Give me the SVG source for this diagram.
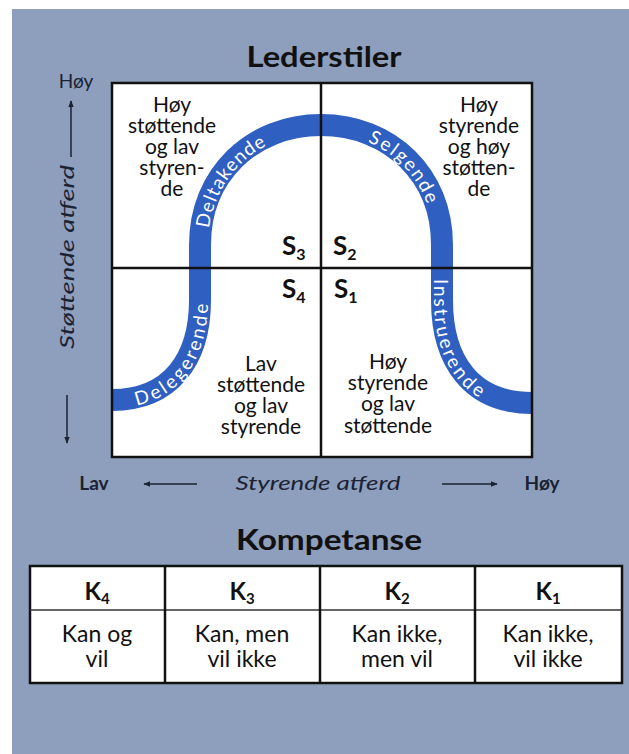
<svg xmlns="http://www.w3.org/2000/svg" width="629" height="754" viewBox="0 0 629 754">
<defs>
<style>
.t{font-family:Lato,"Liberation Sans",sans-serif;fill:#111;}
.q{font-size:21px;text-anchor:middle;}
.ax{font-family:Lato,"Liberation Sans",sans-serif;fill:#1a2233;font-size:19px;}
.line{stroke:#111;stroke-width:2.5;fill:none;}
.arr{stroke:#1a2233;stroke-width:1.5;fill:none;}
.band{font-family:Lato,"Liberation Sans",sans-serif;fill:#fff;font-size:19px;dominant-baseline:central;text-anchor:middle;}
.s{font-family:Lato,"Liberation Sans",sans-serif;fill:#111;font-weight:bold;font-size:26px;}
.sub{font-size:16px;}
</style>
<marker id="ah" viewBox="0 0 10 10" refX="9" refY="5" markerWidth="7" markerHeight="7" orient="auto-start-reverse" markerUnits="userSpaceOnUse">
<path d="M0,1 L10,5 L0,9 z" fill="#1a2233"/>
</marker>
<path id="curve" d="M112,400 C170,400 200,360 200,300 L200,245 C200,175 252,125 321,125 C390,125 442,175 442,245 L442,300 C442,362 472,403 532,403"/>
</defs>
<rect x="0" y="0" width="629" height="754" fill="#ffffff"/>
<rect x="12" y="9" width="617" height="745" fill="#8e9ebd"/>

<g id="title">
<text class="t" x="324" y="67" font-size="28" font-weight="bold" text-anchor="middle" textLength="155" lengthAdjust="spacingAndGlyphs">Lederstiler</text>
</g>

<g id="quadrant-box">
<rect x="112" y="83" width="420" height="374" fill="#fff"/>
</g>

<g id="curve-band">
<use href="#curve" fill="none" stroke="#2f5fc0" stroke-width="22"/>
<text class="band"><textPath href="#curve" startOffset="85" textLength="125">Delegerende</textPath></text>
<text class="band"><textPath href="#curve" startOffset="280" textLength="112">Deltakende</textPath></text>
<text class="band"><textPath href="#curve" startOffset="495" textLength="95">Selgende</textPath></text>
<text class="band"><textPath href="#curve" startOffset="684" textLength="126">Instruerende</textPath></text>
</g>

<g id="grid-lines">
<rect class="line" x="112" y="83" width="420" height="374"/>
<line class="line" x1="321" y1="83" x2="321" y2="457"/>
<line class="line" x1="112" y1="268" x2="532" y2="268"/>
</g>

<g id="q-s3">
<text class="t q" x="172"><tspan x="172" y="112">Høy</tspan><tspan x="172" y="133">støttende</tspan><tspan x="172" y="154">og lav</tspan><tspan x="172" y="175">styren-</tspan><tspan x="172" y="196">de</tspan></text>
<text class="s" x="282" y="255">S<tspan class="sub" dy="5">3</tspan></text>
</g>
<g id="q-s2">
<text class="t q" x="479"><tspan x="479" y="112">Høy</tspan><tspan x="479" y="133">styrende</tspan><tspan x="479" y="154">og høy</tspan><tspan x="479" y="175">støtten-</tspan><tspan x="479" y="196">de</tspan></text>
<text class="s" x="333" y="255">S<tspan class="sub" dy="5">2</tspan></text>
</g>
<g id="q-s4">
<text class="t q" x="261"><tspan x="261" y="371">Lav</tspan><tspan x="261" y="392">støttende</tspan><tspan x="261" y="413">og lav</tspan><tspan x="261" y="434">styrende</tspan></text>
<text class="s" x="282" y="298">S<tspan class="sub" dy="5">4</tspan></text>
</g>
<g id="q-s1">
<text class="t q" x="388"><tspan x="388" y="369">Høy</tspan><tspan x="388" y="390">styrende</tspan><tspan x="388" y="411">og lav</tspan><tspan x="388" y="433">støttende</tspan></text>
<text class="s" x="334" y="298">S<tspan class="sub" dy="5">1</tspan></text>
</g>

<g id="axes">
<text class="ax" x="76" y="88" text-anchor="middle">Høy</text>
<line class="arr" x1="71" y1="157" x2="71" y2="101" marker-end="url(#ah)"/>
<text class="ax" font-style="italic" font-size="21" text-anchor="middle" transform="translate(74,257) rotate(-90)" textLength="184" lengthAdjust="spacingAndGlyphs">Støttende atferd</text>
<line class="arr" x1="67" y1="395" x2="67" y2="443" marker-end="url(#ah)"/>
<text class="ax" x="94" y="490" font-weight="bold" font-size="20" text-anchor="middle">Lav</text>
<line class="arr" x1="197" y1="484" x2="144" y2="484" marker-end="url(#ah)"/>
<text class="ax" x="318" y="490" font-style="italic" font-size="21" text-anchor="middle" textLength="165" lengthAdjust="spacingAndGlyphs">Styrende atferd</text>
<line class="arr" x1="442" y1="484" x2="497" y2="484" marker-end="url(#ah)"/>
<text class="ax" x="542" y="490" font-weight="bold" font-size="20" text-anchor="middle">Høy</text>
</g>

<g id="kompetanse">
<text class="t" x="329" y="550" font-size="29" font-weight="bold" text-anchor="middle" textLength="186" lengthAdjust="spacingAndGlyphs">Kompetanse</text>
<rect x="30" y="566" width="592" height="117" fill="#fff" stroke="#111" stroke-width="2.5"/>
<line x1="30" y1="610" x2="622" y2="610" stroke="#333" stroke-width="1.5"/>
<line class="line" x1="165" y1="566" x2="165" y2="683"/>
<line class="line" x1="320" y1="566" x2="320" y2="683"/>
<line class="line" x1="475" y1="566" x2="475" y2="683"/>
</g>
<g id="k4">
<text class="t" x="97" y="600" font-size="24" font-weight="bold" text-anchor="middle">K<tspan font-size="15" dy="4">4</tspan></text>
<text class="t" x="97" font-size="23" text-anchor="middle"><tspan x="97" y="642">Kan og</tspan><tspan x="97" y="667">vil</tspan></text>
</g>
<g id="k3">
<text class="t" x="242" y="600" font-size="24" font-weight="bold" text-anchor="middle">K<tspan font-size="15" dy="4">3</tspan></text>
<text class="t" x="242" font-size="23" text-anchor="middle"><tspan x="242" y="642">Kan, men</tspan><tspan x="242" y="667">vil ikke</tspan></text>
</g>
<g id="k2">
<text class="t" x="397" y="600" font-size="24" font-weight="bold" text-anchor="middle">K<tspan font-size="15" dy="4">2</tspan></text>
<text class="t" x="397" font-size="23" text-anchor="middle"><tspan x="397" y="642">Kan ikke,</tspan><tspan x="397" y="667">men vil</tspan></text>
</g>
<g id="k1">
<text class="t" x="548" y="600" font-size="24" font-weight="bold" text-anchor="middle">K<tspan font-size="15" dy="4">1</tspan></text>
<text class="t" x="548" font-size="23" text-anchor="middle"><tspan x="548" y="642">Kan ikke,</tspan><tspan x="548" y="667">vil ikke</tspan></text>
</g>
</svg>
